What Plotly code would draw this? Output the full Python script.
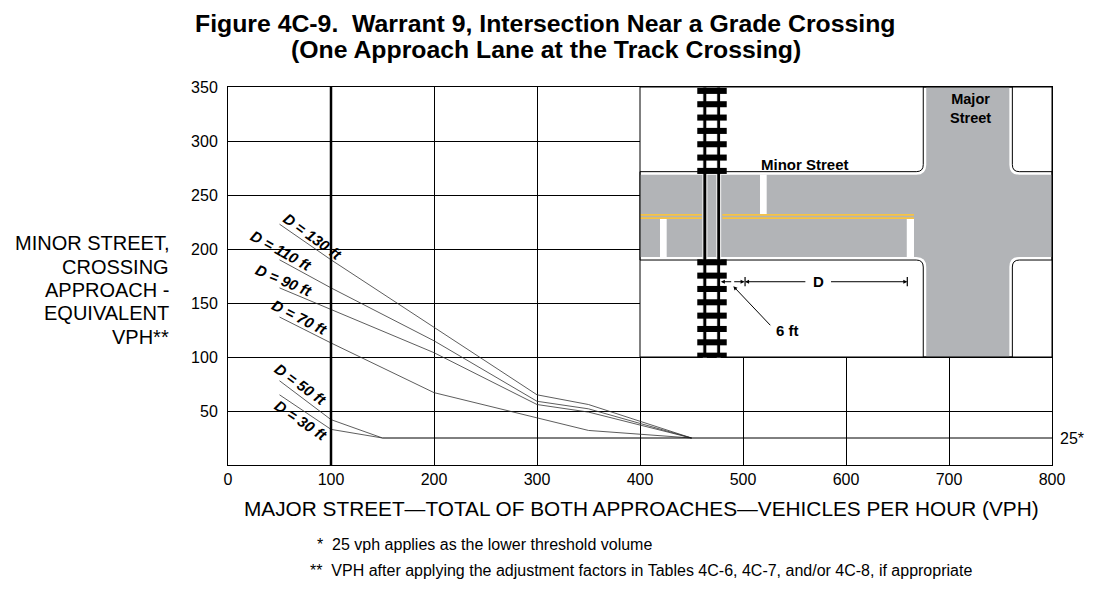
import plotly.graph_objects as go

# curves: major street vph (x) vs minor street vph (y)
d130_x = [50, 100, 300, 350, 450]
d130_y = [223, 190, 65, 56, 25]
d110_x = [50, 100, 200, 300, 350, 450]
d110_y = [190, 164, 115, 59, 52, 25]
d90_x = [50, 100, 200, 300, 350, 450]
d90_y = [164, 144, 104, 56, 49, 25]
d70_x = [50, 100, 200, 300, 350, 450]
d70_y = [137, 113, 67, 44, 32, 25]
d50_x = [50, 100, 150]
d50_y = [78, 42, 25]
d30_x = [50, 100, 150]
d30_y = [65, 33, 25]
thresh_x = [150, 800]
thresh_y = [25, 25]

x_ticks = [0, 100, 200, 300, 400, 500, 600, 700, 800]
y_ticks = [50, 100, 150, 200, 250, 300, 350]

FONT = "Arial, Liberation Sans, sans-serif"

fig = go.Figure()
for xs, ys in [(d130_x, d130_y), (d110_x, d110_y), (d90_x, d90_y),
               (d70_x, d70_y), (d50_x, d50_y), (d30_x, d30_y)]:
    fig.add_trace(go.Scatter(x=xs, y=ys, mode="lines",
                             line=dict(color="#333333", width=0.8)))
fig.add_trace(go.Scatter(x=thresh_x, y=thresh_y, mode="lines",
                         line=dict(color="black", width=1)))

shapes = []
# thick line at 100 vph
shapes.append(dict(type="line", x0=100, x1=100, y0=0, y1=350,
                   line=dict(color="black", width=2.5), layer="above"))

# ---- inset drawing ----
shapes.append(dict(type="rect", x0=400, x1=800, y0=100, y1=350,
                   fillcolor="white", line=dict(width=0), layer="above"))

yT, yB, xL, xR = 271.6, 189.8, 675, 761.5
rx, ry = 6.8, 6.5


def road_path(yT, yB, xL, xR, rx, ry):
    return (f"M 400,{yT} L {xL-rx},{yT} Q {xL},{yT} {xL},{yT+ry} L {xL},350 "
            f"L {xR},350 L {xR},{yT+ry} Q {xR},{yT} {xR+rx},{yT} L 800,{yT} "
            f"L 800,{yB} L {xR+rx},{yB} Q {xR},{yB} {xR},{yB-ry} L {xR},100 "
            f"L {xL},100 L {xL},{yB-ry} Q {xL},{yB} {xL-rx},{yB} L 400,{yB} Z")


shapes.append(dict(type="path", path=road_path(yT, yB, xL, xR, rx, ry),
                   fillcolor="white", line=dict(color="black", width=1),
                   layer="above"))
shapes.append(dict(type="path",
                   path=road_path(yT - 2.8, yB + 2.8, xL + 2.9, xR - 2.9,
                                  rx + 2.9, ry + 2.8),
                   fillcolor="#b2b4b7", line=dict(width=0), layer="above"))

# stop bars
for bx0, bx1, by0, by1 in [(516.5, 523, 232.4, 269), (419.4, 425.9, 192.5, 227.8),
                           (659, 666, 192.5, 227.8)]:
    shapes.append(dict(type="rect", x0=bx0, x1=bx1, y0=by0, y1=by1,
                       fillcolor="white", line=dict(width=0), layer="above"))

# double yellow centre line
for yy in (231.6, 228.6):
    for sx0, sx1 in [(400, 460), (480, 666)]:
        shapes.append(dict(type="line", x0=sx0, x1=sx1, y0=yy, y1=yy,
                           line=dict(color="#f6c343", width=1.6), layer="above"))

# rails
for rx0, rx1 in [(461, 464.9), (474.5, 478.3)]:
    shapes.append(dict(type="rect", x0=rx0, x1=rx1, y0=100, y1=350,
                       fillcolor="black", line=dict(color="white", width=1),
                       layer="above"))
# ties
for k in range(7):
    top = 349.2 - k * 12.35
    shapes.append(dict(type="rect", x0=455.6, x1=484.2, y0=top - 5.6, y1=top,
                       fillcolor="black", line=dict(width=0), layer="above"))
for k in range(8):
    top = 190.5 - k * 12.35
    shapes.append(dict(type="rect", x0=455.6, x1=484.2, y0=max(top - 5.6, 100),
                       y1=top, fillcolor="black", line=dict(width=0),
                       layer="above"))

# dimension ticks
for tx in (502, 659.5):
    shapes.append(dict(type="line", x0=tx, x1=tx, y0=165.5, y1=174,
                       line=dict(color="black", width=1.2), layer="above"))

# inset border
shapes.append(dict(type="rect", x0=400, x1=800, y0=100, y1=350,
                   fillcolor="rgba(0,0,0,0)", line=dict(color="black", width=1),
                   layer="above"))

annotations = []


def arrow(hx, hy, tx, ty):
    annotations.append(dict(x=hx, y=hy, ax=tx, ay=ty, xref="x", yref="y",
                            axref="x", ayref="y", text="", showarrow=True,
                            arrowhead=2, arrowsize=0.8, arrowwidth=1,
                            arrowcolor="black"))


def text(t, x, y, size, xref="paper", yref="paper", xanchor="center",
         align="center", angle=0):
    annotations.append(dict(x=x, y=y, xref=xref, yref=yref, text=t,
                            xanchor=xanchor, yanchor="middle", align=align,
                            textangle=angle, showarrow=False,
                            font=dict(family=FONT, size=size, color="black")))


arrow(502, 169.7, 562, 169.7)
arrow(659.5, 169.7, 584, 169.7)
arrow(478.5, 169.7, 490, 169.7)
arrow(501.5, 169.7, 490, 169.7)
arrow(490.6, 165.5, 527.9, 128)

text("<b>D</b>", 573, 169.7, 15, "x", "y")
text("<b>6 ft</b>", 543, 125, 15, "x", "y")
text("<b>Minor Street</b>", 560, 278.7, 15, "x", "y")
text("<b>Major<br>Street</b>", 720.4, 330.5, 14.5, "x", "y")

# curve labels
for t, lx, ly, ang in [("D = 130 ft", 82.5, 212, 36), ("D = 110 ft", 51.5, 199, 29),
                       ("D = 90 ft", 54.4, 171, 23), ("D = 70 ft", 70, 137, 27),
                       ("D = 50 ft", 71, 75, 36), ("D = 30 ft", 71, 41, 34)]:
    text(f"<b><i>{t}</i></b>", lx, ly, 15, "x", "y", angle=ang)

text("25*", 1.0073, 25, 16, "paper", "y", xanchor="left")

# titles and notes
text("<b>Figure 4C-9.  Warrant 9, Intersection Near a Grade Crossing</b>",
     0.3847, 1.1667, 24.8)
text("<b>(One Approach Lane at the Track Crossing)</b>", 0.3859, 1.0979, 24.8)

for line, py in [("MINOR STREET,", 0.5873), ("CROSSING", 0.5251),
                 ("APPROACH -", 0.463), ("EQUIVALENT", 0.4021), ("VPH**", 0.3399)]:
    text(line, -0.0692, py, 20, xanchor="right", align="right")

text("MAJOR STREET\u2014TOTAL OF BOTH APPROACHES\u2014VEHICLES PER HOUR (VPH)",
     0.5024, -0.1138, 20.8)
text("*  25 vph applies as the lower threshold volume", 0.1056, -0.2116, 16,
     xanchor="left", align="left")
text("**  VPH after applying the adjustment factors in Tables 4C-6, 4C-7, and/or 4C-8, if appropriate",
     0.0971, -0.2778, 16, xanchor="left", align="left")

fig.update_layout(
    width=1089, height=585, autosize=False,
    margin=dict(l=220, r=45, t=79, b=128, autoexpand=False),
    paper_bgcolor="white", plot_bgcolor="white",
    showlegend=False,
    shapes=shapes, annotations=annotations,
    font=dict(family=FONT, color="black"),
    xaxis=dict(range=[0, 800], tickvals=x_ticks, showgrid=True, gridcolor="black",
               gridwidth=1, zeroline=False, showline=True, linecolor="black",
               linewidth=1, mirror=True, ticks="", tickfont=dict(size=16)),
    yaxis=dict(range=[0, 350], tickvals=y_ticks, showgrid=True, gridcolor="black",
               gridwidth=1, zeroline=False, showline=True, linecolor="black",
               linewidth=1, mirror=True, ticks="", tickfont=dict(size=16),
               ticklabelstandoff=6),
)

fig.write_html("out.html")
